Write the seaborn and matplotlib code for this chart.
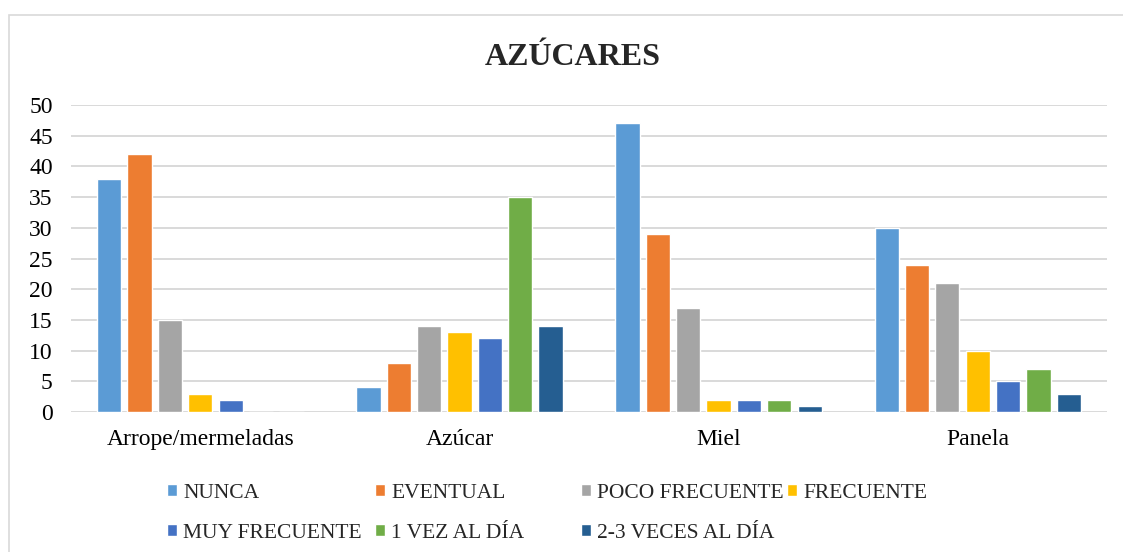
import pandas as pd
import seaborn as sns
import matplotlib.pyplot as plt
from matplotlib.patches import Rectangle

categories = ["Arrope/mermeladas", "Azúcar", "Miel", "Panela"]
frequencies = ["NUNCA", "EVENTUAL", "POCO FRECUENTE", "FRECUENTE",
               "MUY FRECUENTE", "1 VEZ AL DÍA", "2-3 VECES AL DÍA"]
nunca = [38, 4, 47, 30]
eventual = [42, 8, 29, 24]
poco_frecuente = [15, 14, 17, 21]
frecuente = [3, 13, 2, 10]
muy_frecuente = [2, 12, 2, 5]
una_vez_dia = [0, 35, 2, 7]
dos_tres_veces_dia = [0, 14, 1, 3]
colors = ["#5B9BD5", "#ED7D31", "#A5A5A5", "#FFC000",
          "#4472C4", "#70AD47", "#255E91"]

series = [nunca, eventual, poco_frecuente, frecuente,
          muy_frecuente, una_vez_dia, dos_tres_veces_dia]
rows = []
for freq, values in zip(frequencies, series):
    for cat, v in zip(categories, values):
        rows.append({"categoria": cat, "frecuencia": freq, "valor": v})
df = pd.DataFrame(rows)

sns.set_theme(style="white")
plt.rcParams["font.family"] = ["Liberation Serif", "DejaVu Serif"]

fig = plt.figure(figsize=(11.23, 5.52), dpi=100)
ax = fig.add_axes([0.063, 0.2536, 0.923, 0.5562])

sns.barplot(data=df, x="categoria", y="valor", hue="frecuencia",
            order=categories, hue_order=frequencies, palette=colors,
            saturation=1, width=0.82, gap=0.2, ax=ax, legend=True)

ax.set_ylim(0, 50)
ax.set_yticks(range(0, 51, 5))
ax.yaxis.grid(True, color="#D9D9D9", linewidth=1.4)
ax.set_axisbelow(True)
for s in ax.spines.values():
    s.set_visible(False)
ax.tick_params(axis="both", length=0, labelsize=17, colors="black")
ax.tick_params(axis="x", pad=12)
ax.tick_params(axis="y", pad=13)
ax.set_xlabel("")
ax.set_ylabel("")

fig.text(0.510, 0.895, "AZÚCARES", ha="center", va="center",
         fontsize=23, fontweight="bold")

# Excel-style legend: fixed-width grid of 4 columns, entries row by row
handles, labels = ax.get_legend_handles_labels()
ax.get_legend().remove()
col_x = [167, 375, 581, 787]
row_y = [493, 533]
W, H = 1123, 552
for i, (h, l) in enumerate(zip(handles, labels)):
    r, c = divmod(i, 4)
    fig.legend([h], [l], loc="center left",
               bbox_to_anchor=(col_x[c] / W, 1 - row_y[r] / H),
               frameon=False, fontsize=15.5, borderpad=0,
               borderaxespad=0, handlelength=0.45, handleheight=0.45,
               handletextpad=0.3)

fig.patches.append(Rectangle((0.008, -0.1), 1.2, 1.073, transform=fig.transFigure,
                             fill=False, edgecolor="#D9D9D9", linewidth=1.2))

fig.savefig("out.png", dpi=100)
